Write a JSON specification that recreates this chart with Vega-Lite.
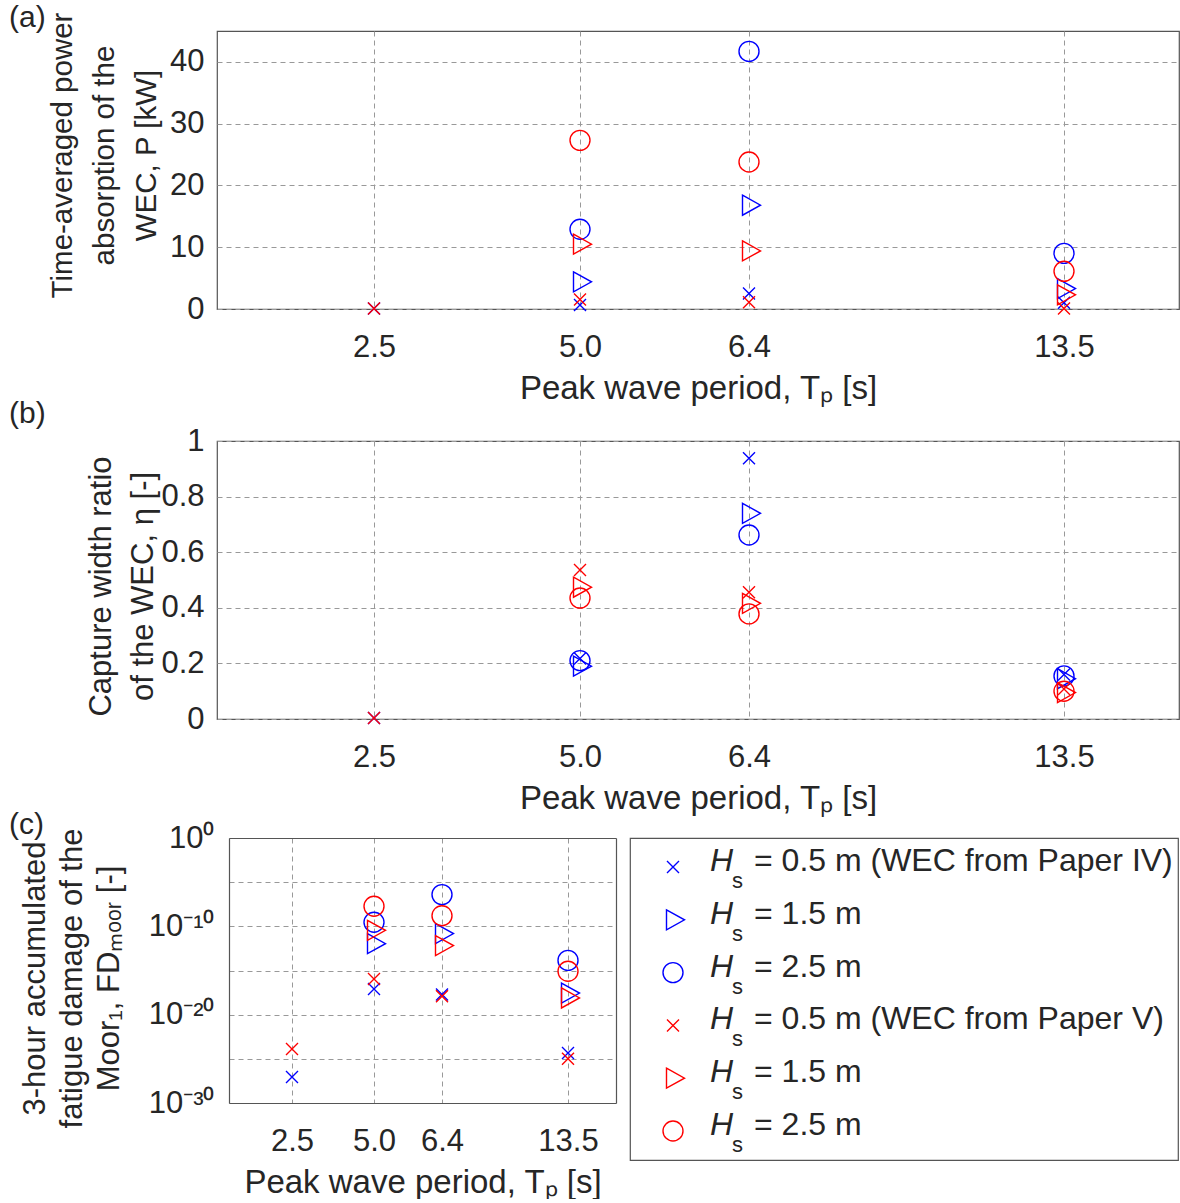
{
  "$schema": "https://vega.github.io/schema/vega-lite/v6.json",
  "padding": {"left": 8, "top": 2, "right": 0, "bottom": 0},
  "background": "white",
  "config": {
    "font": "Liberation Sans",
    "view": {"stroke": "#555555", "strokeWidth": 1.2},
    "axis": {
      "labelFont": "Liberation Sans", "labelFontSize": 31, "labelColor": "#262626",
      "titleFont": "Liberation Sans", "titleFontSize": 31, "titleFontWeight": "normal", "titleColor": "#262626",
      "gridColor": "#999999", "gridDash": [5, 4], "gridWidth": 1, "domain": false, "ticks": false,
      "domainColor": "#555555", "domainWidth": 1.2
    },
    "title": {"font": "Liberation Sans", "fontSize": 30, "fontWeight": "normal", "color": "#262626", "anchor": "start", "frame": "group"}
  },
  "datasets": {
    "main": [
      {"Tp": 2.5, "wec": "IV", "Hs": "0.5", "P": 0.1, "eta": 0.004, "FD": 8.7e-28},
      {"Tp": 5.0, "wec": "IV", "Hs": "0.5", "P": 0.65, "eta": 0.218, "FD": 7.9e-18},
      {"Tp": 5.0, "wec": "IV", "Hs": "1.5", "P": 4.4, "eta": 0.19, "FD": 1.1e-12},
      {"Tp": 5.0, "wec": "IV", "Hs": "2.5", "P": 12.9, "eta": 0.21, "FD": 2.9e-10},
      {"Tp": 6.4, "wec": "IV", "Hs": "0.5", "P": 2.5, "eta": 0.938, "FD": 1.9e-18},
      {"Tp": 6.4, "wec": "IV", "Hs": "1.5", "P": 16.8, "eta": 0.74, "FD": 1.5e-11},
      {"Tp": 6.4, "wec": "IV", "Hs": "2.5", "P": 41.7, "eta": 0.662, "FD": 3.9e-7},
      {"Tp": 13.5, "wec": "IV", "Hs": "0.5", "P": 1.0, "eta": 0.16, "FD": 4.6e-25},
      {"Tp": 13.5, "wec": "IV", "Hs": "1.5", "P": 3.3, "eta": 0.145, "FD": 2.8e-18},
      {"Tp": 13.5, "wec": "IV", "Hs": "2.5", "P": 9.0, "eta": 0.155, "FD": 1.4e-14},
      {"Tp": 2.5, "wec": "V", "Hs": "0.5", "P": 0.1, "eta": 0.004, "FD": 1.26e-24},
      {"Tp": 5.0, "wec": "V", "Hs": "0.5", "P": 1.55, "eta": 0.536, "FD": 1.1e-16},
      {"Tp": 5.0, "wec": "V", "Hs": "1.5", "P": 10.5, "eta": 0.474, "FD": 3.5e-11},
      {"Tp": 5.0, "wec": "V", "Hs": "2.5", "P": 27.3, "eta": 0.435, "FD": 1.86e-8},
      {"Tp": 6.4, "wec": "V", "Hs": "0.5", "P": 1.1, "eta": 0.456, "FD": 1.2e-18},
      {"Tp": 6.4, "wec": "V", "Hs": "1.5", "P": 9.4, "eta": 0.416, "FD": 6.6e-13},
      {"Tp": 6.4, "wec": "V", "Hs": "2.5", "P": 23.8, "eta": 0.378, "FD": 1.6e-9},
      {"Tp": 13.5, "wec": "V", "Hs": "0.5", "P": 0.1, "eta": 0.108, "FD": 1.05e-25},
      {"Tp": 13.5, "wec": "V", "Hs": "1.5", "P": 2.3, "eta": 0.095, "FD": 7.8e-19},
      {"Tp": 13.5, "wec": "V", "Hs": "2.5", "P": 6.1, "eta": 0.1, "FD": 8.1e-16}
    ],
    "leg": [
      {"k": 1, "wec": "IV", "Hs": "0.5", "txt": "= 0.5 m (WEC from Paper IV)"},
      {"k": 2, "wec": "IV", "Hs": "1.5", "txt": "= 1.5 m"},
      {"k": 3, "wec": "IV", "Hs": "2.5", "txt": "= 2.5 m"},
      {"k": 4, "wec": "V", "Hs": "0.5", "txt": "= 0.5 m (WEC from Paper V)"},
      {"k": 5, "wec": "V", "Hs": "1.5", "txt": "= 1.5 m"},
      {"k": 6, "wec": "V", "Hs": "2.5", "txt": "= 2.5 m"}
    ]
  },
  "spacing": -6,
  "vconcat": [
    {
      "spacing": -8,
      "vconcat": [
        {
          "width": 962, "height": 278,
          "title": {"text": "(a)", "dx": -208, "offset": -21},
          "data": {"name": "main"},
          "mark": {"type": "point", "filled": false, "size": 400, "strokeWidth": 1.4, "opacity": 1},
          "encoding": {
            "x": {"field": "Tp", "type": "quantitative",
              "scale": {"domain": [0.6, 2.5, 5.0, 6.4, 13.5, 16.1], "range": [0, 157, 363, 532, 847, 962]},
              "axis": {"values": [2.5, 5.0, 6.4, 13.5], "format": ".1f", "title": "Peak wave period, Tₚ [s]", "titleFontSize": 33, "labelPadding": 23, "titlePadding": 10}},
            "y": {"field": "P", "type": "quantitative",
              "scale": {"domain": [0, 45], "nice": false, "zero": true},
              "axis": {"values": [0, 10, 20, 30, 40], "title": ["Time-averaged power", "absorption of the", "WEC, P [kW]"], "titleFontSize": 29.5, "titleLineHeight": 42, "titleY": 124, "labelPadding": 13, "titlePadding": 8}},
            "color": {"field": "wec", "type": "nominal", "scale": {"domain": ["IV", "V"], "range": ["#0000ff", "#ff0000"]}, "legend": null},
            "shape": {"field": "Hs", "type": "nominal", "scale": {"domain": ["0.5", "1.5", "2.5"], "range": ["M-0.6,-0.6L0.6,0.6M-0.6,0.6L0.6,-0.6", "M-0.65,-1L1.15,0L-0.65,1Z", "circle"]}, "legend": null}
          }
        },
        {
          "width": 962, "height": 278,
          "title": {"text": "(b)", "dx": -208, "offset": -4},
          "data": {"name": "main"},
          "mark": {"type": "point", "filled": false, "size": 400, "strokeWidth": 1.4, "opacity": 1},
          "encoding": {
            "x": {"field": "Tp", "type": "quantitative",
              "scale": {"domain": [0.6, 2.5, 5.0, 6.4, 13.5, 16.1], "range": [0, 157, 363, 532, 847, 962]},
              "axis": {"values": [2.5, 5.0, 6.4, 13.5], "format": ".1f", "title": "Peak wave period, Tₚ [s]", "titleFontSize": 33, "labelPadding": 23, "titlePadding": 10}},
            "y": {"field": "eta", "type": "quantitative",
              "scale": {"domain": [0, 1], "nice": false},
              "axis": {"values": [0, 0.2, 0.4, 0.6, 0.8, 1], "format": "~g", "title": ["Capture width ratio", "of the WEC, η [-]"], "titleLineHeight": 42, "titleY": 145, "labelPadding": 13, "titlePadding": 1}},
            "color": {"field": "wec", "type": "nominal", "scale": {"domain": ["IV", "V"], "range": ["#0000ff", "#ff0000"]}, "legend": null},
            "shape": {"field": "Hs", "type": "nominal", "scale": {"domain": ["0.5", "1.5", "2.5"], "range": ["M-0.6,-0.6L0.6,0.6M-0.6,0.6L0.6,-0.6", "M-0.65,-1L1.15,0L-0.65,1Z", "circle"]}, "legend": null}
          }
        }
      ]
    },
    {
      "spacing": 13,
      "hconcat": [
        {
          "width": 399, "height": 265,
          "title": {"text": "(c)", "dx": -208, "offset": -18},
          "view": {"stroke": null},
          "data": {"name": "main"},
          "resolve": {"axis": {"x": "independent", "y": "independent"}},
          "layer": [
            {
              "mark": {"type": "point", "filled": false, "size": 400, "strokeWidth": 1.4, "opacity": 1},
              "encoding": {
                "x": {"field": "Tp", "type": "quantitative",
                  "scale": {"domain": [0.2, 2.5, 5.0, 6.4, 13.5, 16.1], "range": [12, 75, 157, 225, 351, 399]},
                  "axis": {"values": [2.5, 5.0, 6.4, 13.5], "format": ".1f", "title": "Peak wave period, Tₚ [s]", "titleFontSize": 33, "labelPadding": 23, "titlePadding": 10, "domain": true}},
                "y": {"field": "FD", "type": "quantitative",
                  "scale": {"type": "log", "domain": [1e-30, 1], "nice": false},
                  "axis": {"values": [1e-30, 1e-25, 1e-20, 1e-15, 1e-10, 1e-5, 1], "offset": -12, "domain": true,
                    "labelExpr": "round(log(datum.value)/LN10) == 0 ? '10⁰' : round(log(datum.value)/LN10) == -10 ? '10⁻¹⁰' : round(log(datum.value)/LN10) == -20 ? '10⁻²⁰' : round(log(datum.value)/LN10) == -30 ? '10⁻³⁰' : ''",
                    "title": ["3-hour accumulated", "fatigue damage of the", "Moor₁, FDₘₒₒᵣ [-]"], "titleLineHeight": 37, "titleY": 140, "labelPadding": 15, "titlePadding": 23}},
                "color": {"field": "wec", "type": "nominal", "scale": {"domain": ["IV", "V"], "range": ["#0000ff", "#ff0000"]}, "legend": null},
                "shape": {"field": "Hs", "type": "nominal", "scale": {"domain": ["0.5", "1.5", "2.5"], "range": ["M-0.6,-0.6L0.6,0.6M-0.6,0.6L0.6,-0.6", "M-0.65,-1L1.15,0L-0.65,1Z", "circle"]}, "legend": null}
              }
            },
            {
              "mark": {"type": "point", "opacity": 0},
              "encoding": {
                "x": {"field": "Tp", "type": "quantitative",
                  "scale": {"domain": [0.2, 2.5, 5.0, 6.4, 13.5, 16.1], "range": [12, 75, 157, 225, 351, 399]},
                  "axis": {"orient": "top", "labels": false, "grid": false, "title": null, "domain": true, "values": [2.5, 5.0, 6.4, 13.5]}},
                "y": {"field": "FD", "type": "quantitative",
                  "scale": {"type": "log", "domain": [1e-30, 1], "nice": false},
                  "axis": {"orient": "right", "labels": false, "grid": false, "title": null, "domain": true, "values": [1e-30, 1e-20, 1e-10, 1]}}
              }
            }
          ]
        },
        {
          "width": 548, "height": 322,
          "data": {"name": "leg"},
          "encoding": {"y": {"field": "k", "type": "ordinal", "scale": {"type": "point", "padding": 0.55}, "axis": null}},
          "layer": [
            {"mark": {"type": "point", "filled": false, "size": 400, "strokeWidth": 1.4, "opacity": 1},
             "encoding": {"x": {"value": 43},
               "color": {"field": "wec", "type": "nominal", "scale": {"domain": ["IV", "V"], "range": ["#0000ff", "#ff0000"]}, "legend": null},
               "shape": {"field": "Hs", "type": "nominal", "scale": {"domain": ["0.5", "1.5", "2.5"], "range": ["M-0.6,-0.6L0.6,0.6M-0.6,0.6L0.6,-0.6", "M-0.65,-1L1.15,0L-0.65,1Z", "circle"]}, "legend": null}}},
            {"mark": {"type": "text", "font": "Liberation Sans", "fontStyle": "italic", "fontSize": 32, "align": "left", "baseline": "alphabetic", "dy": 4, "color": "#262626"},
             "encoding": {"x": {"value": 80}, "text": {"value": "H"}}},
            {"mark": {"type": "text", "font": "Liberation Sans", "fontSize": 22, "align": "left", "baseline": "alphabetic", "dy": 21, "color": "#262626"},
             "encoding": {"x": {"value": 102}, "text": {"value": "s"}}},
            {"mark": {"type": "text", "font": "Liberation Sans", "fontSize": 32, "align": "left", "baseline": "alphabetic", "dy": 4, "color": "#262626"},
             "encoding": {"x": {"value": 124}, "text": {"field": "txt"}}}
          ]
        }
      ]
    }
  ]
}
